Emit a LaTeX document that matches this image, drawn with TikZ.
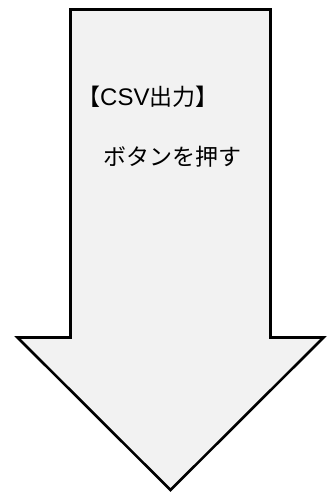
\documentclass[tikz,border=0pt]{standalone}
\usepackage{fontspec}
\newfontfamily\jpfont{Noto Sans CJK JP}
\newfontfamily\latinfont{Liberation Sans}
\begin{document}
\begin{tikzpicture}[x=1bp,y=-1bp]
\definecolor{col}{HTML}{F2F2F2}
\tikzset{label text/.style={anchor=west, inner sep=0pt, text=black, font=\jpfont\fontsize{23bp}{27bp}\selectfont}}
\useasboundingbox (0,0) rectangle (328,493);
\filldraw[fill=col, draw=black, line width=2.6bp] (70.5,9.5) -- (270.5,9.5) -- (270.5,337.5) -- (323.5,337.5) -- (170.5,490) -- (17.5,337.5) -- (70.5,337.5) -- cycle;
\node[label text] (title) at (77,97) {【{\latinfont\fontsize{24bp}{27bp}\selectfont CSV}出力】};
\node[label text] (action) at (103,157) {ボタンを押す};
\end{tikzpicture}
\end{document}
